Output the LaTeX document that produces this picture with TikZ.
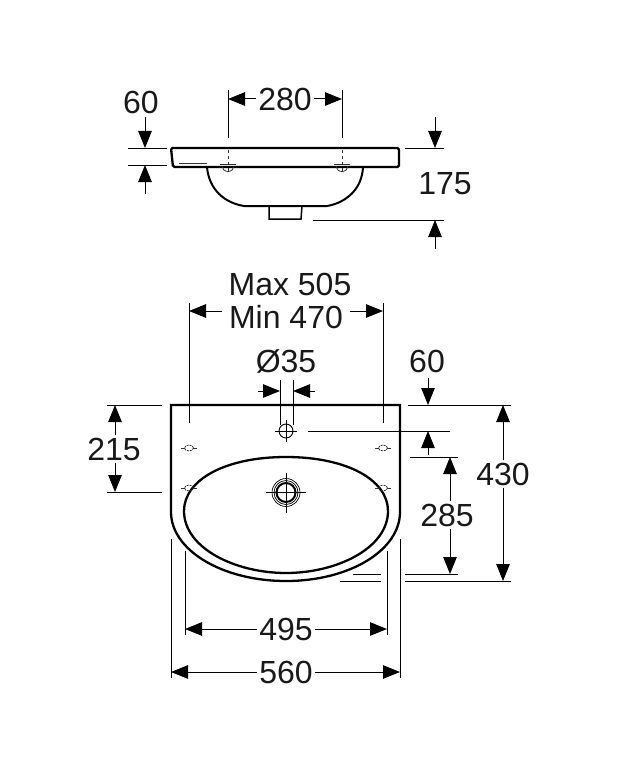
\documentclass[tikz,border=0pt]{standalone}
\usepackage{fontspec}
\setmainfont{Liberation Sans}
\usetikzlibrary{arrows.meta}
\tikzset{
  dimline/.style={line width=1pt,-{Stealth[length=17pt,width=13.5pt,inset=0pt]}},
  extline/.style={line width=0.9pt},
  hidden/.style={line width=0.8pt,black!80},
  heavy/.style={line width=2.3pt},
  dimtext/.style={font=\fontsize{32}{32}\selectfont,text=black!90,inner sep=2pt}
}
\begin{document}
\begin{tikzpicture}[x=1pt,y=-1pt]
	\useasboundingbox (0,0) rectangle (618,770);
	% top view
	\draw[heavy,rounded corners=1.5pt] (171,148) -- (399,148) -- (399,167) -- (173,167) -- cycle;
	\draw[line width=2pt] (207,167) .. controls (209,190) and (225,203) .. (244,206) -- (327,206) .. controls (345,203) and (362,190) .. (363,167);
	\draw[line width=1.5pt] (269,206) -- (269,219) -- (301,219) -- (302,206);
	\draw[hidden,line width=1pt] (179,164) -- (207,164);
	\foreach \hx in {228,342} {
		\draw[hidden] (\hx-6,166) arc (180:0:6 and 5.5);
		\draw[hidden] (\hx-8,164) -- (\hx+8,164);
		\draw[hidden,dashed] (\hx,150) -- (\hx,171);
	}
	% top view dimensions
	\node[dimtext] (wHoles) at (285,99) {280};
	\coordinate (holeL) at (228,99);
	\coordinate (holeR) at (342,99);
	\draw[dimline] (wHoles) -- (holeL);
	\draw[dimline] (wHoles) -- (holeR);
	\draw[extline] (228,90) -- (228,138);
	\draw[extline] (342,90) -- (342,138);
	\node[dimtext] (rimH) at (141,102) {60};
	\coordinate (rimTop) at (145,148);
	\coordinate (rimBot) at (145,165);
	\coordinate (rimTail) at (145,117);
	\coordinate (rimTailB) at (145,194);
	\draw[dimline] (rimTail) -- (rimTop);
	\draw[dimline] (rimTailB) -- (rimBot);
	\draw[extline] (128,148) -- (167,148);
	\draw[extline] (128,165) -- (167,165);
	\node[dimtext] (totH) at (445,184) {175};
	\coordinate (totTop) at (435,148);
	\coordinate (totBot) at (435,220);
	\coordinate (totTail) at (435,117);
	\coordinate (totTailB) at (435,249);
	\draw[dimline] (totTail) -- (totTop);
	\draw[dimline] (totTailB) -- (totBot);
	\draw[extline] (405,148) -- (444,148);
	\draw[extline] (313,220) -- (444,220);
	% front view
	\draw[heavy] (171,405) -- (171,512) .. controls (171,550) and (222,581) .. (286,581) .. controls (350,581) and (400,550) .. (400,512) -- (400,405) -- cycle;
	\draw[heavy] (286,457) .. controls (225,457) and (184,480) .. (184,511) .. controls (184,548) and (235,573) .. (286,573) .. controls (337,573) and (388,548) .. (388,511) .. controls (388,480) and (347,457) .. (286,457) -- cycle;
	\draw[line width=0.7pt] (286,492.5) circle (14);
	\draw[line width=0.7pt] (286,492.5) circle (12);
	\draw[line width=2pt] (286,492.5) circle (9.5);
	\draw[line width=0.7pt] (266,492.5) -- (306,492.5);
	\draw[line width=0.7pt] (286,472.5) -- (286,512.5);
	\draw[line width=0.9pt] (286,431) circle (7);
	\draw[line width=0.7pt] (275,431) -- (297,431);
	\draw[line width=0.7pt] (286,420) -- (286,442);
	\foreach \sx/\sy in {189/448,383/448,189/488,383/488} {
		\draw[hidden,dash pattern=on 2pt off 1pt] (\sx,\sy) ellipse (4.5 and 3);
		\draw[hidden] (\sx-8,\sy) -- (\sx-4,\sy);
		\draw[hidden] (\sx+4,\sy) -- (\sx+8,\sy);
	}
	% front view dimensions
	\node[dimtext] (maxW) at (290,284) {Max 505};
	\node[dimtext] (minW) at (286,317) {Min 470};
	\coordinate (minL) at (189,311);
	\coordinate (minR) at (383,311);
	\coordinate (minTailL) at (222,311);
	\coordinate (minTailR) at (350,311);
	\draw[dimline] (minTailL) -- (minL);
	\draw[dimline] (minTailR) -- (minR);
	\draw[extline] (189,303) -- (189,423);
	\draw[extline] (383,303) -- (383,423);
	\node[dimtext] (tapD) at (286,361) {Ø35};
	\coordinate (tapL) at (280,391);
	\coordinate (tapR) at (293,391);
	\coordinate (tapTailL) at (258,391);
	\coordinate (tapTailR) at (315,391);
	\draw[dimline] (tapTailL) -- (tapL);
	\draw[dimline] (tapTailR) -- (tapR);
	\draw[extline] (280,380) -- (280,425);
	\draw[extline] (293,380) -- (293,425);
	\node[dimtext] (tapY) at (427,361) {60};
	\coordinate (tapTop) at (428,405);
	\coordinate (tapBot) at (428,431);
	\coordinate (tapTail) at (428,378);
	\coordinate (tapTailB) at (428,455);
	\draw[dimline] (tapTail) -- (tapTop);
	\draw[dimline] (tapTailB) -- (tapBot);
	\draw[extline] (308,431) -- (450,431);
	\node[dimtext] (leftH) at (114,449) {215};
	\coordinate (leftTop) at (115,405);
	\coordinate (leftBot) at (115,492);
	\draw[dimline] (leftTop |- leftH.north) -- (leftTop);
	\draw[dimline] (leftBot |- leftH.south) -- (leftBot);
	\draw[extline] (107,405) -- (162,405);
	\draw[extline] (107,492) -- (162,492);
	\node[dimtext] (allH) at (503,474) {430};
	\coordinate (allTop) at (503,405);
	\coordinate (allBot) at (503,581);
	\draw[dimline] (allH) -- (allTop);
	\draw[dimline] (allH) -- (allBot);
	\draw[extline] (408,405) -- (511,405);
	\draw[extline] (405,581) -- (511,581);
	\draw[extline] (340,581) -- (381,581);
	\node[dimtext] (bowlY) at (447,515) {285};
	\coordinate (bowlTop) at (450,457);
	\coordinate (bowlBot) at (450,574);
	\draw[dimline] (bowlTop |- bowlY.north) -- (bowlTop);
	\draw[dimline] (bowlBot |- bowlY.south) -- (bowlBot);
	\draw[extline] (410,457) -- (458,457);
	\draw[extline] (405,574) -- (458,574);
	\draw[extline] (353,574) -- (381,574);
	\node[dimtext] (bowlW) at (286,629) {495};
	\coordinate (bowlL) at (185,629);
	\coordinate (bowlR) at (387,629);
	\draw[dimline] (bowlW) -- (bowlL);
	\draw[dimline] (bowlW) -- (bowlR);
	\draw[extline] (185,551) -- (185,635);
	\draw[extline] (387,551) -- (387,635);
	\node[dimtext] (allW) at (286,672) {560};
	\coordinate (allL) at (171,672);
	\coordinate (allR) at (400,672);
	\draw[dimline] (allW) -- (allL);
	\draw[dimline] (allW) -- (allR);
	\draw[extline] (171,539) -- (171,678);
	\draw[extline] (400,539) -- (400,678);
\end{tikzpicture}
\end{document}
